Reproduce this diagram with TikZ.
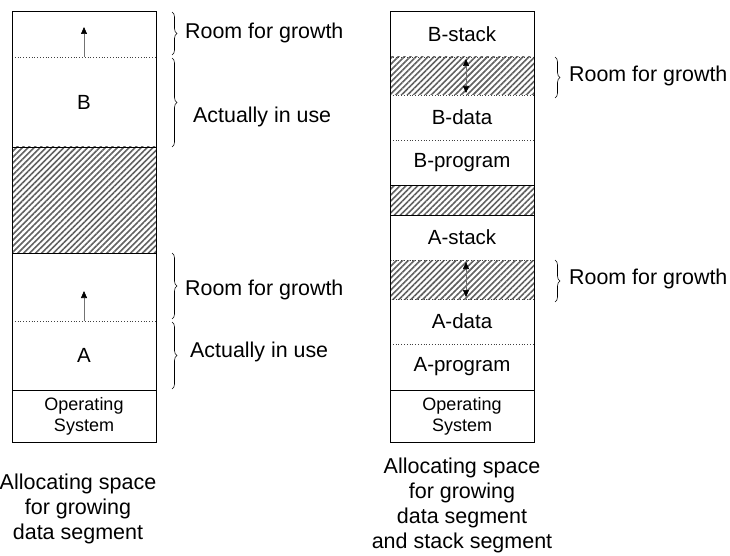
\documentclass[tikz,border=0pt]{standalone}
\usepackage{fontspec}
\setmainfont{Liberation Sans}
\usetikzlibrary{patterns.meta,decorations.pathreplacing,arrows.meta}

\begin{document}
\begin{tikzpicture}[x=1pt,y=-1pt,
  seg/.style={minimum width=144pt, inner sep=0pt, outer sep=0pt,
    font=\fontsize{20.5}{24}\selectfont},
  ossty/.style={seg, align=center, font=\fontsize{18}{21}\selectfont},
  freeseg/.style={seg, pattern={Lines[angle=45,distance=4.2pt,line width=1.6pt]},
    pattern color=black!62},
  colframe/.style={draw=black, line width=0.9pt},
  sepsolid/.style={draw=black, line width=0.9pt},
  sepdot/.style={draw=black!75, line width=0.8pt, dotted},
  growarrow/.style={draw=black!55, line width=0.6pt,
    -{Triangle[length=7pt,width=6pt,color=black]}},
  growboth/.style={draw=black!55, line width=0.6pt,
    {Triangle[length=7pt,width=6pt,color=black]}-{Triangle[length=7pt,width=6pt,color=black]}},
  bracesty/.style={draw=black, line width=0.6pt, decorate,
    decoration={brace, amplitude=5pt}},
  lbl/.style={anchor=west, inner sep=0pt, font=\fontsize{21.4}{25}\selectfont},
  capsty/.style={align=center, inner sep=0pt, font=\fontsize{21.5}{25}\selectfont},
]
\useasboundingbox (0,0) rectangle (730,556);

% ---------- left column: growing data segment ----------
\node[seg, minimum height=46] (lroomB) at (84,34) {};
\node[seg, minimum height=90] (lB) at (84,102) {B};
\node[freeseg, minimum height=106] (lfree) at (84,200) {};
\node[seg, minimum height=68] (lroomA) at (84,287) {};
\node[seg, minimum height=69] (lA) at (84,355.5) {A};
\node[ossty, minimum height=52] (los) at (84,416) {Operating\\System};

\draw[sepdot] (lroomB.south west) -- (lroomB.south east);
\draw[sepsolid] (lB.south west) -- (lB.south east);
\draw[sepsolid] (lfree.south west) -- (lfree.south east);
\draw[sepdot] (lroomA.south west) -- (lroomA.south east);
\draw[sepsolid] (lA.south west) -- (lA.south east);
\draw[colframe] (lroomB.north west) rectangle (los.south east);

\coordinate (lBtip) at (84,27);
\coordinate (lAtip) at (84,291);
\draw[growarrow] (lB.north) -- (lBtip);
\draw[growarrow] (lA.north) -- (lAtip);

% braces and labels of the left column
\coordinate (lb1t) at (172,12);  \coordinate (lb1b) at (172,55);
\coordinate (lb2t) at (172,58);  \coordinate (lb2b) at (172,147);
\coordinate (lb3t) at (172,253); \coordinate (lb3b) at (172,319);
\coordinate (lb4t) at (172,322); \coordinate (lb4b) at (172,389);
\draw[bracesty] (lb1t) -- (lb1b);
\draw[bracesty] (lb2t) -- (lb2b);
\draw[bracesty] (lb3t) -- (lb3b);
\draw[bracesty] (lb4t) -- (lb4b);
\node[lbl] (lt1) at (185,33) {Room for growth};
\node[lbl] (lt2) at (193,117) {Actually in use};
\node[lbl] (lt3) at (185,290) {Room for growth};
\node[lbl] (lt4) at (190,352) {Actually in use};

\node[capsty] (lcap) at (78,509) {Allocating space\\for growing\\data segment};

% ---------- right column: growing data and stack segments ----------
\node[seg, minimum height=46] (rBs) at (462,34) {B-stack};
\node[freeseg, minimum height=38] (rBg) at (462,76) {};
\node[seg, minimum height=45] (rBd) at (462,117.5) {B-data};
\node[seg, minimum height=45] (rBp) at (462,162.5) {B-program};
\node[freeseg, minimum height=30] (rfree) at (462,200) {};
\node[seg, minimum height=45] (rAs) at (462,237.5) {A-stack};
\node[freeseg, minimum height=39] (rAg) at (462,279.5) {};
\node[seg, minimum height=45] (rAd) at (462,321.5) {A-data};
\node[seg, minimum height=46] (rAp) at (462,367) {A-program};
\node[ossty, minimum height=52] (ros) at (462,416) {Operating\\System};

\draw[sepdot] (rBs.south west) -- (rBs.south east);
\draw[sepdot] (rBg.south west) -- (rBg.south east);
\draw[sepdot] (rBd.south west) -- (rBd.south east);
\draw[sepsolid] (rBp.south west) -- (rBp.south east);
\draw[sepsolid] (rfree.south west) -- (rfree.south east);
\draw[sepdot] (rAs.south west) -- (rAs.south east);
\draw[sepdot] (rAg.south west) -- (rAg.south east);
\draw[sepdot] (rAd.south west) -- (rAd.south east);
\draw[sepsolid] (rAp.south west) -- (rAp.south east);
\draw[colframe] (rBs.north west) rectangle (ros.south east);

\coordinate (rBtop) at (466,59);  \coordinate (rBbot) at (466,93);
\coordinate (rAtop) at (466,262); \coordinate (rAbot) at (466,297);
\draw[growboth] (rBtop) -- (rBbot);
\draw[growboth] (rAtop) -- (rAbot);

\coordinate (rb1t) at (555,57);  \coordinate (rb1b) at (555,98);
\coordinate (rb2t) at (555,260); \coordinate (rb2b) at (555,302);
\draw[bracesty] (rb1t) -- (rb1b);
\draw[bracesty] (rb2t) -- (rb2b);
\node[lbl] (rt1) at (569,76) {Room for growth};
\node[lbl] (rt2) at (569,279) {Room for growth};

\node[capsty] (rcap) at (462,505) {Allocating space\\for growing\\data segment\\and stack segment};
\end{tikzpicture}
\end{document}
